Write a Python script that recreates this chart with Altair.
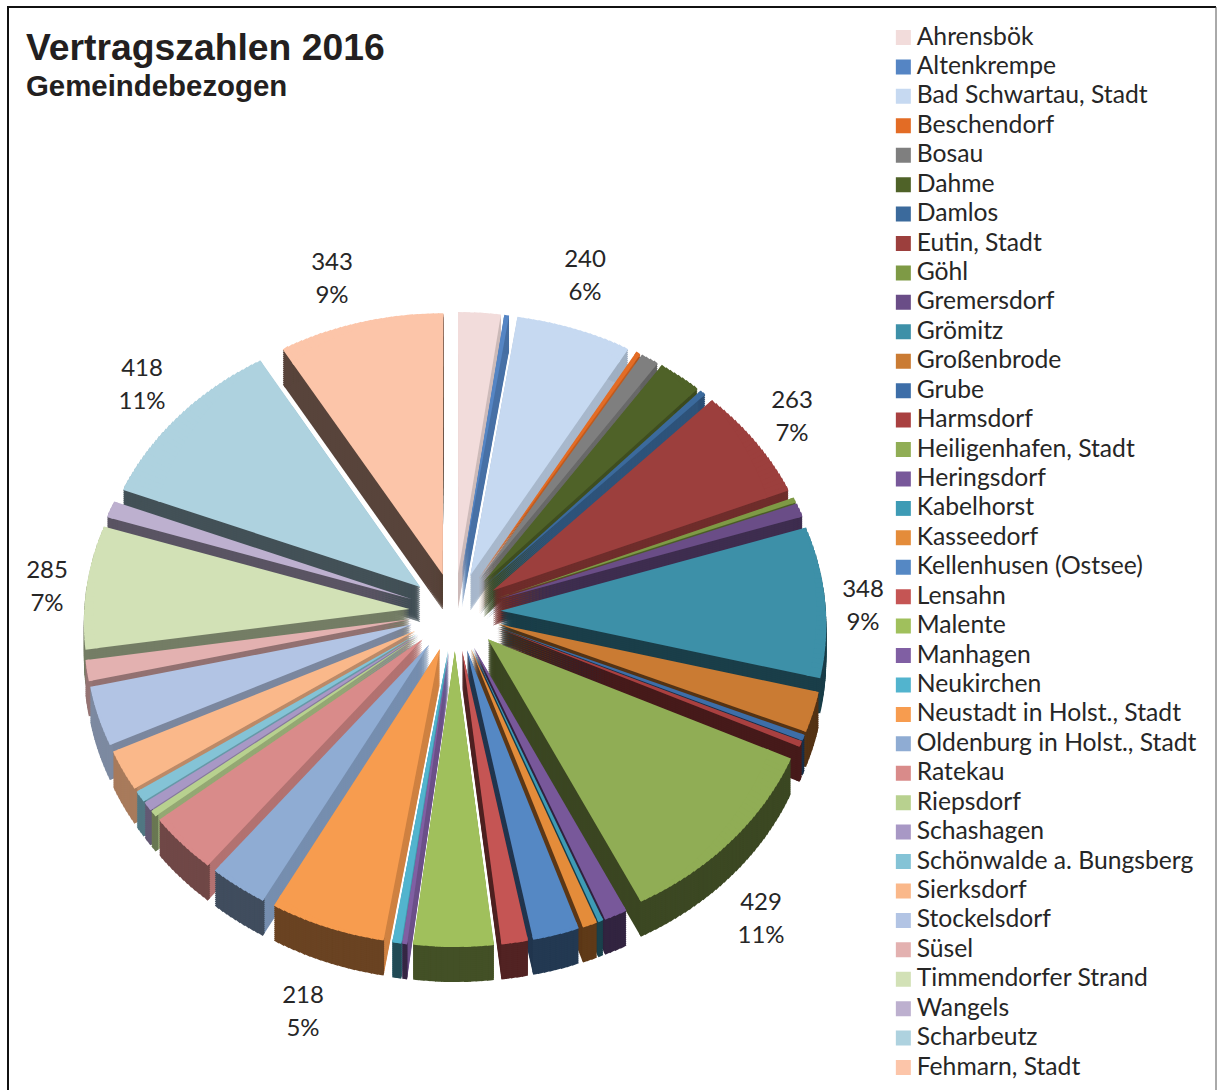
import math
import altair as alt
import numpy as np
import pandas as pd

alt.data_transformers.disable_max_rows()

NAMES = ["Ahrensbök", "Altenkrempe", "Bad Schwartau, Stadt", "Beschendorf", "Bosau", "Dahme",
         "Damlos", "Eutin, Stadt", "Göhl", "Gremersdorf", "Grömitz", "Großenbrode", "Grube",
         "Harmsdorf", "Heiligenhafen, Stadt", "Heringsdorf", "Kabelhorst", "Kasseedorf",
         "Kellenhusen (Ostsee)", "Lensahn", "Malente", "Manhagen", "Neukirchen",
         "Neustadt in Holst., Stadt", "Oldenburg in Holst., Stadt", "Ratekau", "Riepsdorf",
         "Schashagen", "Schönwalde a. Bungsberg", "Sierksdorf", "Stockelsdorf", "Süsel",
         "Timmendorfer Strand", "Wangels", "Scharbeutz", "Fehmarn, Stadt"]
VALUES = [88, 10, 240, 10, 38, 92, 13, 263, 12, 32, 348, 92, 13, 13, 429, 44, 10, 28, 88, 50,
          150, 9, 17, 218, 111, 135, 14, 20, 25, 91, 135, 48, 285, 39, 418, 343]
COLORS = ["#f2dcdb", "#5585c4", "#c6d9f1", "#e36c25", "#7f7f7f", "#4f6228", "#3b6a9c", "#9c3f3d",
          "#7e9a45", "#6a4d87", "#3d90a8", "#ca7b33", "#3d6ea8", "#a94040", "#90ad55", "#78589a",
          "#3e9bb5", "#e48c3a", "#5588c4", "#c55554", "#a0c05c", "#805fa3", "#52b4ce", "#f79c4f",
          "#8facd3", "#d98b8a", "#b8d18f", "#a898c5", "#84c3d6", "#fab88a", "#b2c4e4", "#e3b1b0",
          "#d2e1b6", "#bdb0cf", "#aed2df", "#fcc5a9"]

# Slices that carry a value label, with the label's first line on the page.
LABELLED = {"Fehmarn, Stadt": (332, 263), "Bad Schwartau, Stadt": (585, 260), "Eutin, Stadt": (792, 401),
            "Grömitz": (863, 590), "Heiligenhafen, Stadt": (761, 903), "Neustadt in Holst., Stadt": (303, 996),
            "Timmendorfer Strand": (47, 571), "Scharbeutz": (142, 369)}

# Brightness of the slice walls against the clockwise position of the slice (degrees).
SIDE_AT = [0, 30, 55, 90, 180, 180.01, 230, 250, 270, 295, 320, 360]
SIDE_SHADE = [.85, .85, .73, .42, .4, .85, .82, .7, .58, .45, .35, .35]
RIM_AT = [0, 55, 90, 190, 215, 230, 245, 255, 270, 295, 320, 360]
RIM_SHADE = [.85, .73, .42, .42, .45, .55, .72, .7, .58, .45, .35, .35]

W, H = 1217, 1090
EXPLODE = 0.14          # explosion of every slice, as a share of its radius
DEPTH = 35              # height of the extruded pie
TOP_STEP = math.radians(1)      # the tilted outline is followed in steps of this angle
WALL_STEP = math.radians(2.5)   # coarser steps for the walls' hidden parts


def project(px, py):
    """Tilted view of a point on the pie's unit disk."""
    return 455 + 371 * px * (1 + 0.05 * py), 612 + 317.5 * py + 17.5 * py * py


def shade(hex_color, factor):
    rgb = [int(hex_color[i:i + 2], 16) for i in (1, 3, 5)]
    return "#" + "".join(f"{int(c * factor):02x}" for c in rgb)


total = sum(VALUES)
ends = np.cumsum(VALUES) / total * 2 * math.pi
starts = ends - np.array(VALUES) / total * 2 * math.pi
body = 1 / (1 + EXPLODE)
shift = EXPLODE / (1 + EXPLODE)

slices = []
for name, color, t0, t1 in zip(NAMES, COLORS, starts, ends):
    tm = (t0 + t1) / 2
    ax, ay = shift * math.sin(tm), -shift * math.cos(tm)
    cx, cy = project(ax, ay)
    rim_point = lambda t: project(ax + body * math.sin(t), ay - body * math.cos(t))
    bearing = lambda t: math.atan2(rim_point(t)[0] - cx, cy - rim_point(t)[1]) % (2 * math.pi)
    base = bearing(t0)

    def make_fan(step):
        # One tilted slice is a short fan of arcs, each with the reach of the outline at its middle.
        count = max(1, math.ceil((t1 - t0) / step))
        edges = np.linspace(t0, t1, count + 1)
        angles = [base + (bearing(t) - base) % (2 * math.pi) if i else base for i, t in enumerate(edges)]
        fan = []
        for i in range(count):
            p = rim_point((edges[i] + edges[i + 1]) / 2)
            overlap = math.radians(0.2) if i < count - 1 else 0
            fan.append(dict(a0=angles[i], a1=angles[i + 1] + overlap, r=math.hypot(p[0] - cx, p[1] - cy)))
        return fan

    fine = make_fan(TOP_STEP)
    slices.append(dict(name=name, color=color, x=cx, y=cy, fine=fine, coarse=make_fan(WALL_STEP),
                       deg=math.degrees(tm), key=rim_point(tm)[1], a0=fine[0]["a0"], a1=fine[-1]["a1"],
                       core=min(f["r"] for f in fine) - 1))

# Back slices are painted first; each one is its side walls, then its rim, then its top.
rows = []
for s in sorted(slices, key=lambda item: item["key"]):
    side = shade(s["color"], float(np.interp(s["deg"], SIDE_AT, SIDE_SHADE)))
    rim = shade(s["color"], float(np.interp(s["deg"], RIM_AT, RIM_SHADE)))
    for d in range(DEPTH, 0, -2):
        rows += [dict(x=s["x"], y=s["y"] + d, inner=0.0, color=side, a0=f["a0"], a1=f["a1"], r=f["r"] - 1)
                 for f in s["coarse"]]
    for d in range(DEPTH, 0, -2):
        rows += [dict(x=s["x"], y=s["y"] + d, color=rim, inner=f["r"] - 4, **f) for f in s["fine"]]
    # The outline's band first, then one solid arc under it all the way to the apex.
    rows += [dict(x=s["x"], y=s["y"], inner=s["core"] - 3, color=s["color"], **f) for f in s["fine"]]
    rows.append(dict(x=s["x"], y=s["y"], inner=0.0, color=s["color"], a0=s["a0"], a1=s["a1"], r=s["core"]))

arc_encoding = dict(
    x=alt.X("x:Q", scale=None, axis=None),
    y=alt.Y("y:Q", scale=None, axis=None),
    theta=alt.Theta("a0:Q", scale=None, stack=None),
    theta2=alt.Theta2("a1:Q"),
    radius=alt.Radius("r:Q", scale=None),
    radius2=alt.Radius2("inner:Q"),
)

# A core of each slice carries the legend; the layer above paints the full slices over it.
core = pd.DataFrame([
    dict(name=s["name"], x=s["x"], y=s["y"], a0=s["a0"], a1=s["a1"], r=0.8 * s["core"], inner=0.0)
    for s in slices
])
legend_layer = alt.Chart(core).mark_arc(strokeWidth=0).encode(
    color=alt.Color("name:N", sort=NAMES, scale=alt.Scale(domain=NAMES, range=COLORS),
                    legend=alt.Legend(title=None, orient="none", legendX=891, legendY=23,
                                      symbolType="square", symbolSize=225, symbolStrokeWidth=0,
                                      symbolOpacity=1, symbolLimit=0, labelFont="Lato", labelFontSize=24.7,
                                      labelColor="#262626", labelLimit=400, labelOffset=1,
                                      clipHeight=29, rowPadding=0.43, padding=0, values=NAMES)),
    **arc_encoding,
)
pie_layer = alt.Chart(pd.DataFrame(rows)).mark_arc(strokeWidth=0).encode(
    color=alt.Color("color:N", scale=None), **arc_encoding
)

labels = pd.DataFrame([
    dict(px=px, py=py, text=f"{VALUES[NAMES.index(n)]}\n{round(VALUES[NAMES.index(n)] / total * 100)}%")
    for n, (px, py) in LABELLED.items()
])
label_layer = alt.Chart(labels).mark_text(
    font="Lato", fontSize=24, color="#262626", lineBreak="\n", lineHeight=33, align="center", baseline="middle"
).encode(x=alt.X("px:Q", scale=None, axis=None), y=alt.Y("py:Q", scale=None, axis=None), text="text:N")


def heading(text, size, baseline_y):
    return alt.Chart(pd.DataFrame({"t": [text]})).mark_text(
        font="Liberation Sans", fontWeight="bold", fontSize=size, color="#231f20",
        align="left", baseline="alphabetic"
    ).encode(x=alt.value(26), y=alt.value(baseline_y), text="t:N")


frame = [
    alt.Chart(pd.DataFrame({"a": [0]})).mark_rule(color="#111111", strokeWidth=2).encode(
        x=alt.value(7), x2=alt.value(1216), y=alt.value(7)),
    alt.Chart(pd.DataFrame({"a": [0]})).mark_rule(color="#111111", strokeWidth=2).encode(
        x=alt.value(8), y=alt.value(7), y2=alt.value(H)),
    alt.Chart(pd.DataFrame({"a": [0]})).mark_rule(color="#555555", strokeWidth=1).encode(
        x=alt.value(1216), y=alt.value(7), y2=alt.value(H)),
]

chart = alt.layer(
    legend_layer, pie_layer, label_layer,
    heading("Vertragszahlen 2016", 37.3, 60), heading("Gemeindebezogen", 29.4, 96), *frame
).properties(
    width=W, height=H, padding=0, autosize=alt.AutoSizeParams(type="none")
).configure_view(stroke=None)

chart.save("out.html", embed_options={"renderer": "svg", "actions": False})
